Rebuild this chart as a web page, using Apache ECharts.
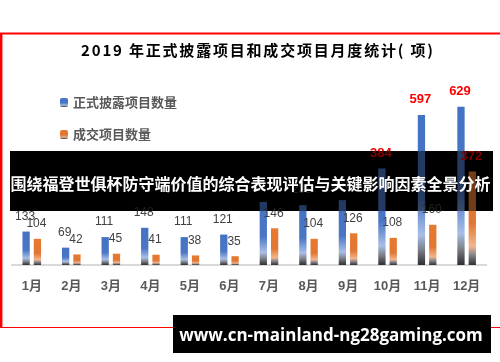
<!DOCTYPE html>
<html>
<head>
<meta charset="utf-8">
<script src="https://cdn.jsdelivr.net/npm/echarts@6/dist/echarts.min.js"></script>
<style>
html,body{margin:0;padding:0;background:#fff;}
#chart{width:500px;height:362px;}
</style>
</head>
<body>
<div id="chart"></div>
<script>
const categories = ['1月','2月','3月','4月','5月','6月','7月','8月','9月','10月','11月','12月'];
const disclosedValues = [133, 69, 111, 148, 111, 121, 251, 238, 258, 384, 597, 629];
const dealValues = [104, 42, 45, 41, 38, 35, 146, 104, 126, 108, 160, 372];
const highlightedDisclosed = [9, 10, 11];
const highlightedDeals = [11];
const seriesNames = ['正式披露项目数量', '成交项目数量'];
const titleText = '2019 年正式披露项目和成交项目月度统计( 项)';
const bannerText = '围绕福登世俱杯防守端价值的综合表现评估与关键影响因素全景分析';
const footerText = 'www.cn-mainland-ng28gaming.com';

const CJK = '"Noto Sans CJK SC", "Liberation Sans", sans-serif';

function spaced(str) {
  return str.split('').map(c => '{s|' + c + '}').join('');
}

function grad(top, mid, light, dark) {
  return new echarts.graphic.LinearGradient(0, 0, 0, 1, [
    {offset: 0, color: top},
    {offset: 0.55, color: mid},
    {offset: 0.8, color: light},
    {offset: 0.9, color: '#7d7f86'},
    {offset: 1, color: dark}
  ]);
}
const blueGrad = grad('#4472C4', '#4A76C5', '#A9BEE6', '#2E2E33');
const orangeGrad = grad('#E8792F', '#E07733', '#F3B58E', '#353030');

const normalLabel = {show: true, position: 'top', distance: 9, color: '#404040', fontSize: 12, fontFamily: '"Liberation Sans", Arial, sans-serif', offset: [-1, 0]};
const redLabel = {show: true, position: 'top', distance: 9, color: '#FF0000', fontSize: 13, fontWeight: 'bold', fontFamily: '"Liberation Sans", Arial, sans-serif', offset: [-1, 0]};

function buildData(values, highlighted) {
  return values.map((v, i) => highlighted.indexOf(i) >= 0 ? {value: v, label: redLabel} : {value: v});
}

const chart = echarts.init(document.getElementById('chart'));
chart.setOption({
  animation: false,
  backgroundColor: '#ffffff',
  grid: {left: 12, width: 474.4, top: 89, height: 176},
  legend: {
    orient: 'vertical', left: 60, top: 96, padding: 0,
    itemWidth: 8, itemHeight: 9, itemGap: 19,
    textStyle: {color: '#595959', fontSize: 13, fontWeight: 'bold', fontFamily: CJK},
    data: seriesNames
  },
  xAxis: {
    type: 'category', data: categories,
    axisLine: {lineStyle: {color: '#D9D9D9', width: 2}},
    axisTick: {show: false},
    axisLabel: {color: '#595959', fontSize: 13, fontWeight: 'bold', margin: 15, fontFamily: '"Liberation Sans", "Noto Sans CJK SC", sans-serif'}
  },
  yAxis: {type: 'value', min: 0, max: 700, show: false, splitLine: {show: false}},
  series: [
    {name: seriesNames[0], type: 'bar', barWidth: 7.3, barGap: '55%', itemStyle: {color: blueGrad}, label: normalLabel, data: buildData(disclosedValues, highlightedDisclosed)},
    {name: seriesNames[1], type: 'bar', barWidth: 7.3, barGap: '55%', itemStyle: {color: orangeGrad}, label: normalLabel, data: buildData(dealValues, highlightedDeals)}
  ],
  graphic: [
    {type: 'line', z: 20, shape: {x1: 0, y1: 33.5, x2: 500, y2: 33.5}, style: {stroke: '#FF0000', lineWidth: 2}},
    {type: 'line', z: 20, shape: {x1: 1.2, y1: 33, x2: 1.2, y2: 327.5}, style: {stroke: '#FF0000', lineWidth: 2.4}},
    {type: 'line', z: 20, shape: {x1: 0, y1: 327.5, x2: 500, y2: 327.5}, style: {stroke: '#FF0000', lineWidth: 1}},
    {type: 'text', z: 20, style: {text: spaced(titleText), x: 257, y: 50, align: 'center', verticalAlign: 'middle',
      rich: {s: {fontSize: 15, fontWeight: 'bold', color: '#595959', fontFamily: CJK, padding: [0, 0.9, 0, 0.9]}}}},
    {type: 'rect', z: 0, shape: {x: 10, y: 151, width: 483, height: 60}, style: {fill: '#000000'}},
    {type: 'rect', z: 10, shape: {x: 10, y: 151, width: 483, height: 60}, style: {fill: 'rgba(0,0,0,0.5)'}},
    {type: 'text', z: 11, style: {text: bannerText, x: 250.5, y: 184, align: 'center', verticalAlign: 'middle', fill: '#ffffff', fontSize: 16, fontWeight: 'bold', fontFamily: CJK}},
    {type: 'rect', z: 30, shape: {x: 173, y: 315, width: 318, height: 38}, style: {fill: '#000000'}},
    {type: 'text', z: 31, style: {text: footerText, x: 331, y: 336, align: 'center', verticalAlign: 'middle', fill: '#ffffff', fontSize: 17, fontWeight: 'bold', fontFamily: '"Open Sans", "Noto Sans", sans-serif'}}
  ]
});
</script>
</body>
</html>
